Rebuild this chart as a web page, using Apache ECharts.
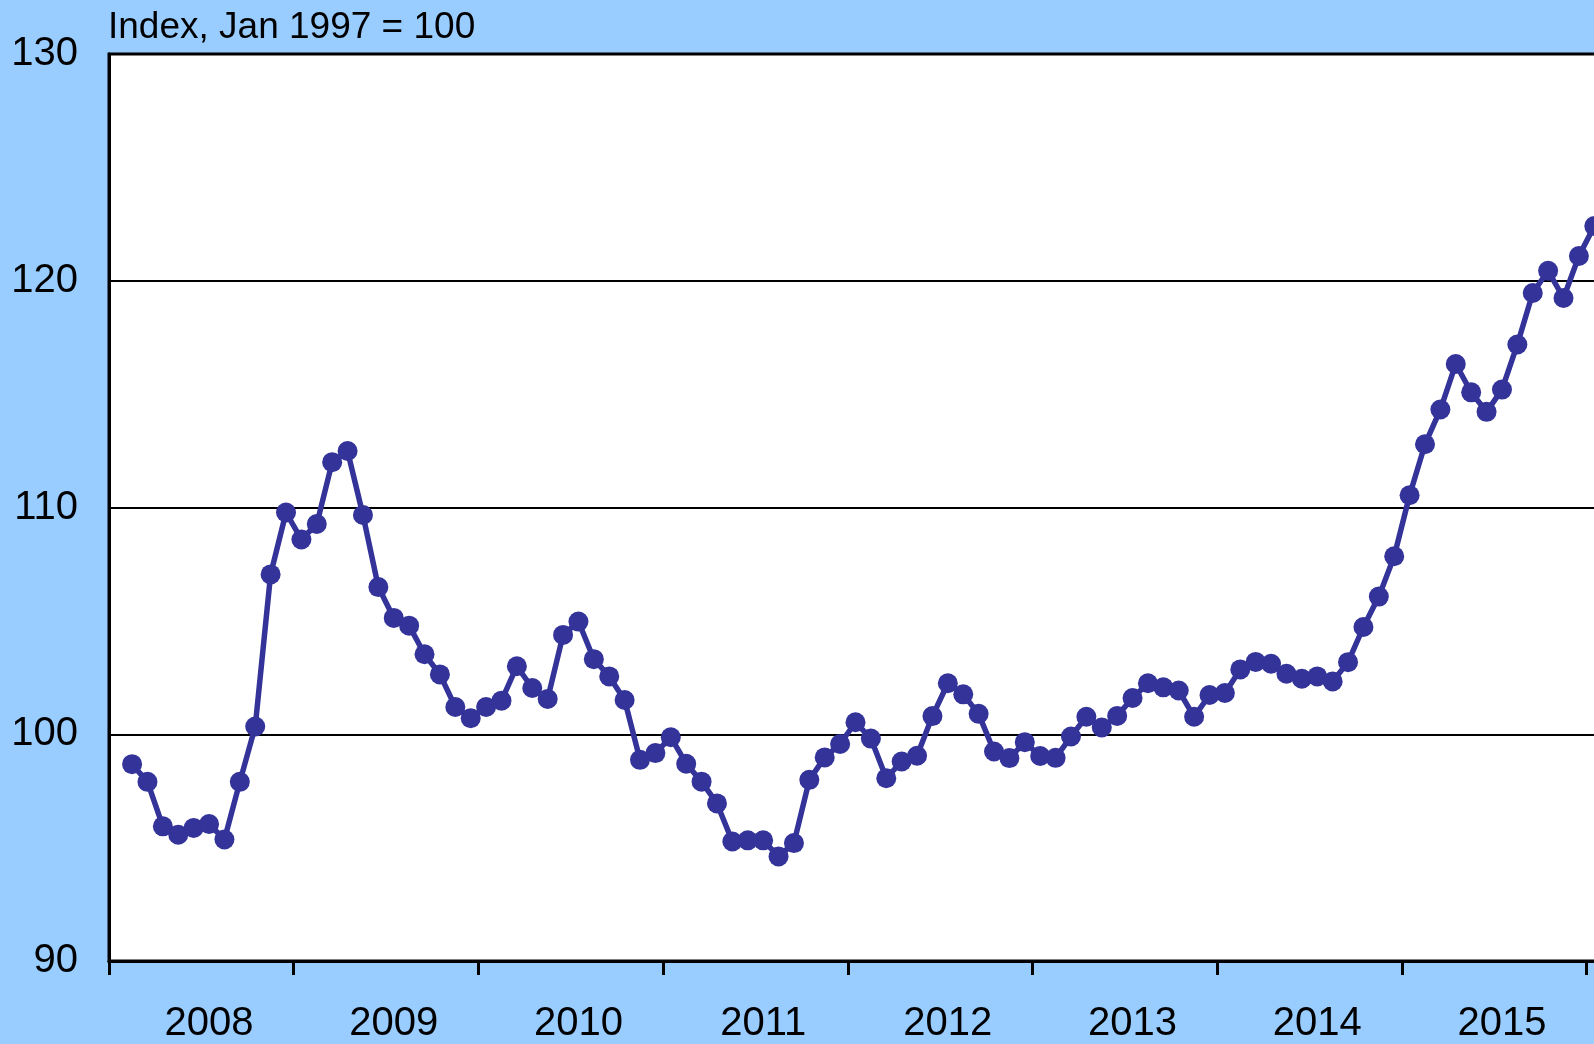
<!DOCTYPE html>
<html>
<head>
<meta charset="utf-8">
<script src="https://cdn.jsdelivr.net/npm/echarts@6/dist/echarts.min.js"></script>
<style>
  html, body { margin: 0; padding: 0; background: #99CCFF; overflow: hidden; width: 1594px; height: 1044px; }
  /* the plot continues slightly past the right edge of the picture, as in the original crop */
  #chart { width: 1602px; height: 1044px; }
</style>
</head>
<body>
<div id="chart"></div>
<script>
// Monthly index values, Jan 2008 .. Dec 2015 (Index, Jan 1997 = 100)
const years = ['2008', '2009', '2010', '2011', '2012', '2013', '2014', '2015'];
const v2008 = [98.68, 97.90, 95.94, 95.57, 95.87, 96.04, 95.36, 97.90, 100.34, 107.05, 109.78, 108.59];
const v2009 = [109.27, 112.00, 112.49, 109.67, 106.49, 105.13, 104.79, 103.53, 102.64, 101.20, 100.71, 101.20];
const v2010 = [101.48, 103.00, 102.04, 101.56, 104.38, 104.97, 103.31, 102.55, 101.51, 98.87, 99.17, 99.87];
const v2011 = [98.70, 97.91, 96.95, 95.27, 95.32, 95.32, 94.61, 95.20, 97.99, 98.98, 99.57, 100.53];
const v2012 = [99.81, 98.06, 98.80, 99.05, 100.80, 102.25, 101.76, 100.90, 99.24, 98.95, 99.65, 99.04];
const v2013 = [98.96, 99.90, 100.77, 100.30, 100.81, 101.60, 102.25, 102.07, 101.93, 100.77, 101.73, 101.82];
const v2014 = [102.86, 103.19, 103.11, 102.67, 102.45, 102.55, 102.33, 103.18, 104.73, 106.07, 107.85, 110.54];
const v2015 = [112.79, 114.32, 116.33, 115.08, 114.22, 115.20, 117.19, 119.46, 120.44, 119.24, 121.09, 122.41];
const yTicks = [90, 100, 110, 120, 130];
const leadingMonth = '2007-12'; // empty slot before the first observation

const yearValues = [v2008, v2009, v2010, v2011, v2012, v2013, v2014, v2015];
const categories = [leadingMonth];
const values = [null];
years.forEach((y, i) => {
  yearValues[i].forEach((v, m) => {
    categories.push(y + '-' + String(m + 1).padStart(2, '0'));
    values.push(v);
  });
});

const FONT = '"Liberation Sans", Arial, sans-serif';
const chart = echarts.init(document.getElementById('chart'), null, { renderer: 'canvas' });
chart.setOption({
  animation: false,
  backgroundColor: '#99CCFF',
  title: {
    text: 'Index, Jan 1997 = 100',
    left: 103,
    top: 4,
    textStyle: { fontFamily: FONT, fontSize: 37, fontWeight: 'normal', color: '#000' }
  },
  grid: {
    left: 109, right: 0, top: 54, bottom: 83,
    show: true, backgroundColor: '#ffffff', borderColor: '#000', borderWidth: 3
  },
  xAxis: {
    type: 'category',
    data: categories,
    boundaryGap: true,
    axisLine: { show: true, lineStyle: { color: '#000', width: 3 } },
    axisTick: {
      show: true, alignWithLabel: false, length: 14,
      interval: (i) => i % 12 === 0,
      lineStyle: { color: '#000', width: 3 }
    },
    axisLabel: {
      interval: (i) => i % 12 === 6,
      formatter: (v) => v.slice(0, 4),
      fontFamily: FONT, fontSize: 40, color: '#000', margin: 43
    },
    splitLine: { show: false }
  },
  yAxis: {
    type: 'value',
    min: yTicks[0], max: yTicks[yTicks.length - 1], interval: 10,
    axisLine: { show: true, lineStyle: { color: '#000', width: 3 } },
    axisTick: { show: false },
    axisLabel: { fontFamily: FONT, fontSize: 40, color: '#000', margin: 31 },
    splitLine: { show: true, lineStyle: { color: '#000', width: 2 } }
  },
  series: [{
    type: 'line',
    data: values,
    symbol: 'circle',
    symbolSize: 20,
    showSymbol: true,
    showAllSymbol: true,
    connectNulls: false,
    itemStyle: { color: '#333399' },
    lineStyle: { color: '#333399', width: 5.5 }
  }]
});
</script>
</body>
</html>
